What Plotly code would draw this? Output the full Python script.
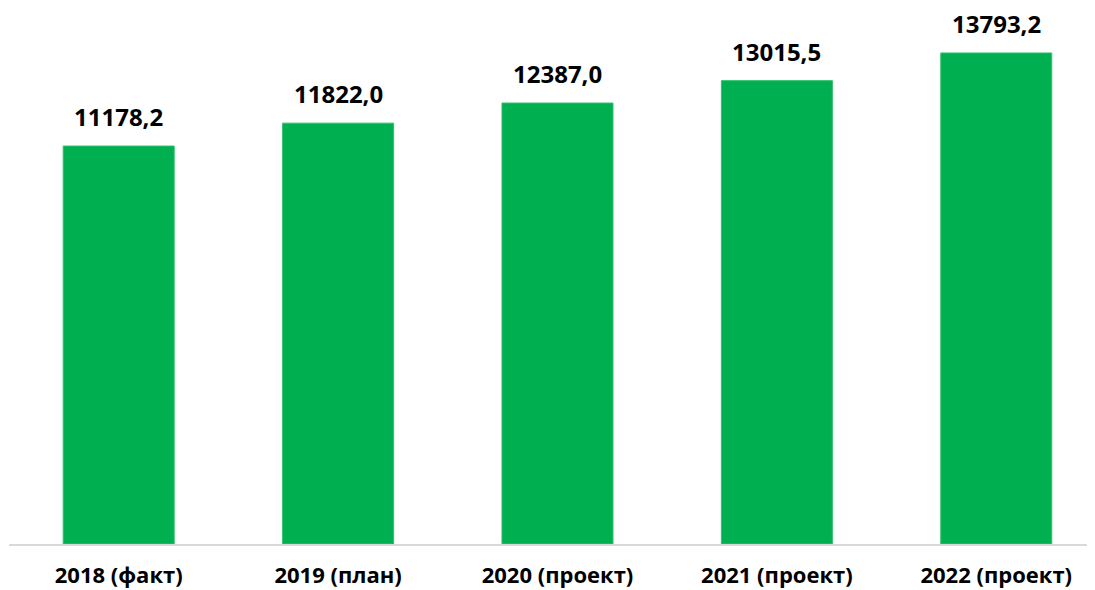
import plotly.graph_objects as go

categories = ["2018 (факт)", "2019 (план)", "2020 (проект)", "2021 (проект)", "2022 (проект)"]
values = [11178.2, 11822.0, 12387.0, 13015.5, 13793.2]
value_labels = ["11178,2", "11822,0", "12387,0", "13015,5", "13793,2"]

GREEN = "#00B050"
FONT = "Open Sans"

fig = go.Figure(go.Bar(
    x=list(range(len(categories))),
    y=values,
    width=0.506,
    marker=dict(color=GREEN, line=dict(color="#2fc06a", width=1)),
    hoverinfo="skip",
))

for i, (v, lab) in enumerate(zip(values, value_labels)):
    fig.add_annotation(
        x=i, y=v, text=f"<b>{lab}</b>", showarrow=False,
        yanchor="bottom", yshift=11,
        font=dict(family=FONT, size=24, color="#000000"),
    )

fig.update_layout(
    width=1087, height=582,
    margin=dict(l=1, r=0, t=2, b=46),
    paper_bgcolor="white", plot_bgcolor="white",
    showlegend=False,
    xaxis=dict(
        range=[-0.5, 4.45],
        tickmode="array",
        tickvals=list(range(len(categories))),
        ticktext=[f"<b>{c}</b>" for c in categories],
        tickfont=dict(family=FONT, size=22, color="#000000"),
        showline=True, linecolor="#D9D9D9", linewidth=2,
        ticks="outside", ticklen=11, tickcolor="rgba(0,0,0,0)",
        showgrid=False, zeroline=False, automargin=False,
    ),
    yaxis=dict(
        range=[0, 15000], visible=False, showgrid=False, zeroline=False,
    ),
)

fig.write_html("out.html")
